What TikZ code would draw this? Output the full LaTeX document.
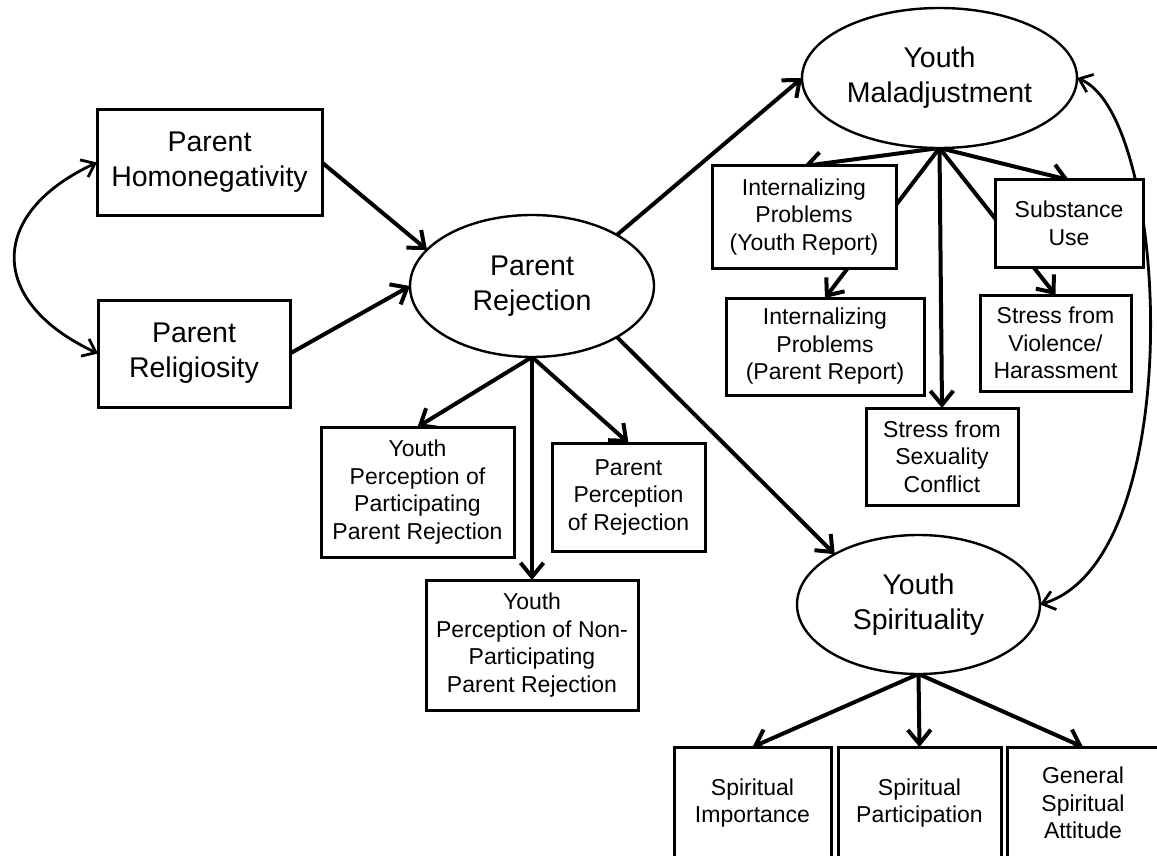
\documentclass[tikz,border=0pt]{standalone}
\usepackage{fontspec}
\setmainfont{Liberation Sans}
\usetikzlibrary{shapes.geometric,arrows.meta}
\pgfdeclarelayer{paper}
\pgfdeclarelayer{links}
\pgfsetlayers{paper,links,main}
\begin{document}
\begin{tikzpicture}[x=1pt,y=-1pt,
  bigtext/.style={font=\fontsize{28.5}{35}\selectfont},
  smalltext/.style={font=\fontsize{23}{27.5}\selectfont},
  obsbox/.style={draw=black,line width=3pt,fill=white,rectangle,inner sep=0pt,outer sep=0pt,align=center},
  latent/.style={draw=black,line width=2.4pt,fill=white,ellipse,inner sep=0pt,outer sep=0pt,align=center,bigtext},
  path/.style={line width=4pt,-{Straight Barb[length=14pt,width=23pt]}},
  cov/.style={line width=2.8pt,{Straight Barb[length=12pt,width=19pt]}-{Straight Barb[length=12pt,width=19pt]}}
]
\begin{pgfonlayer}{paper}
  \fill[white] (0,0) rectangle (1157,856);
\end{pgfonlayer}
\useasboundingbox (0,0) rectangle (1157,856);

% exogenous parent measures
\node[obsbox,bigtext,minimum width=225pt,minimum height=105pt] (hn) at (209.5,162.5) {Parent\\Homonegativity};
\node[obsbox,bigtext,minimum width=192pt,minimum height=107pt] (rel) at (194,353.5) {Parent\\Religiosity};

% latent factors
\node[latent,minimum width=244pt,minimum height=142pt] (pr) at (532,286) {Parent\\Rejection};
\node[latent,minimum width=275pt,minimum height=140pt] (ym) at (939.5,78) {Youth\\Maladjustment};
\node[latent,minimum width=243pt,minimum height=139pt] (ys) at (918.5,604.5) {Youth\\Spirituality};

% indicators of parent rejection
\node[obsbox,smalltext,minimum width=193pt,minimum height=130pt] (ypp) at (417.5,492) {Youth\\Perception of\\Participating\\Parent Rejection};
\node[obsbox,smalltext,minimum width=153pt,minimum height=108pt] (ppr) at (628.5,497) {Parent\\Perception\\of Rejection};
\node[obsbox,smalltext,minimum width=212pt,minimum height=130pt] (ynp) at (532,645) {Youth\\Perception of Non-\\Participating\\Parent Rejection};

% indicators of youth maladjustment
\node[obsbox,smalltext,minimum width=184pt,minimum height=102pt] (ipyr) at (804,217) {Internalizing\\Problems\\(Youth Report)};
\node[obsbox,smalltext,minimum width=198pt,minimum height=97pt] (ippr) at (825,346.5) {Internalizing\\Problems\\(Parent Report)};
\node[obsbox,smalltext,minimum width=148pt,minimum height=87pt] (su) at (1069,223.5) {Substance\\Use};
\node[obsbox,smalltext,minimum width=151pt,minimum height=96pt] (sv) at (1055.5,343) {Stress from\\Violence/\\Harassment};
\node[obsbox,smalltext,minimum width=152pt,minimum height=97pt] (ssc) at (942,456.5) {Stress from\\Sexuality\\Conflict};

% indicators of youth spirituality
\node[obsbox,smalltext,minimum width=157pt,minimum height=112pt] (si) at (752.5,803) {Spiritual\\Importance};
\node[obsbox,smalltext,minimum width=163pt,minimum height=112pt] (sp) at (919.5,803) {Spiritual\\Participation};
\node[obsbox,smalltext,minimum width=152pt,minimum height=112pt] (gsa) at (1083,803) {General\\Spiritual\\Attitude};

\begin{pgfonlayer}{links}
  % covariance between the parent measures
  \draw[cov] (hn.west) .. controls +(-110,51) and +(-110,-51) .. (rel.west);
  % structural paths
  \draw[path] (hn.east) -- (pr.161);
  \draw[path] (rel.east) -- (pr.west);
  \draw[path] (pr.31) -- (ym.west);
  \draw[path] (pr.-31) -- (ys.149);
  % measurement paths
  \draw[path] (pr.south) -- (ypp.north);
  \draw[path] (pr.south) -- (ynp.north);
  \draw[path] (pr.south) -- (ppr.north);
  \draw[path] (ym.south) -- (ipyr.north);
  \draw[path] (ym.south) -- (ippr.north);
  \draw[path] (ym.south) -- (ssc.north);
  \draw[path] (ym.south) -- (su.north);
  \draw[path] (ym.south) -- (sv.north);
  \draw[path] (ys.south) -- (si.north);
  \draw[path] (ys.south) -- (sp.north);
  \draw[path] (ys.south) -- (gsa.north);
  % residual covariance between the youth outcomes
  \draw[cov] (ym.east) .. controls +(93,37) and +(150,-45) .. (ys.east);
\end{pgfonlayer}
\end{tikzpicture}
\end{document}
